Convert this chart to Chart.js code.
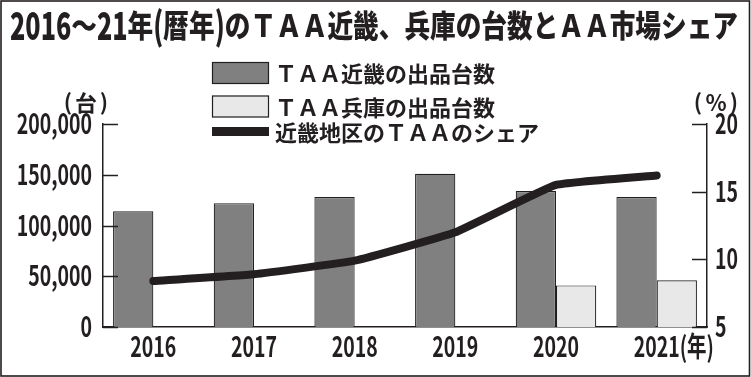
<!DOCTYPE html>
<html lang="ja">
<head>
<meta charset="utf-8">
<title>TAA近畿・兵庫の台数とAA市場シェア</title>
<script src="https://cdn.jsdelivr.net/npm/chart.js@4.4.1/dist/chart.umd.min.js"></script>
<style>
  html, body { margin: 0; padding: 0; background: #fff; }
  #wrap { width: 751px; height: 377px; }
</style>
</head>
<body>
<div id="wrap"><canvas id="taaChart" width="751" height="377"></canvas></div>
<script>
// データ
const years = ['2016', '2017', '2018', '2019', '2020', '2021'];
const kinkiCounts = [114000, 122000, 128000, 151000, 134000, 128000];
const hyogoCounts = [null, null, null, null, 41000, 46000];
const kinkiShare = [8.4, 8.9, 9.9, 12.0, 15.5, 16.2];
const countTicks = [0, 50000, 100000, 150000, 200000];
const shareTicks = [5, 10, 15, 20];

const titleText = '2016～21年(暦年)のＴＡＡ近畿、兵庫の台数とＡＡ市場シェア';
const seriesLabels = ['ＴＡＡ近畿の出品台数', 'ＴＡＡ兵庫の出品台数', '近畿地区のＴＡＡのシェア'];

const INK = '#231f20';
const JP_FONT = '"Noto Sans CJK JP", sans-serif';
const NUM_FONT = 'bold 28px ' + JP_FONT;

// 横方向に詰めて描く
function drawSqueezed(ctx, text, x, y, align, sx) {
    const w = ctx.measureText(text).width * sx;
    const left = align === 'right' ? x - w : align === 'center' ? x - w / 2 : x;
    ctx.save();
    ctx.translate(left, y);
    ctx.scale(sx, 1);
    ctx.textAlign = 'left';
    ctx.fillText(text, 0, 0);
    ctx.restore();
    return w;
}

// 背景・タイトル・外枠
const framePlugin = {
    id: 'frame',
    beforeDraw(chart) {
        const ctx = chart.ctx;
        ctx.save();
        ctx.fillStyle = '#fff';
        ctx.fillRect(0, 0, chart.width, chart.height);
        ctx.fillStyle = INK;

        // 英数字は背を高く細く、全体を幅に合わせて詰める
        const runs = titleText.match(/[\x20-\x7e]+|[^\x20-\x7e]+/g).map(s => ({
            text: s,
            ascii: /^[\x20-\x7e]/.test(s)
        }));
        const fontOf = r => r.ascii ? '900 38px ' + JP_FONT : '900 31px ' + JP_FONT;
        const squeeze = r => r.ascii ? 0.8 : 1;
        let total = 0;
        runs.forEach(r => {
            ctx.font = fontOf(r);
            r.w = ctx.measureText(r.text).width * squeeze(r);
            total += r.w;
        });
        const sx = 728 / total;
        ctx.translate(10, 40);
        ctx.scale(sx, 1);
        let cx = 0;
        runs.forEach(r => {
            ctx.font = fontOf(r);
            ctx.textBaseline = r.ascii ? 'alphabetic' : 'ideographic';
            ctx.save();
            ctx.translate(cx, r.ascii ? 0 : 1);
            ctx.scale(squeeze(r), 1);
            ctx.fillText(r.text, 0, 0);
            ctx.restore();
            cx += r.w;
        });
        ctx.restore();
    },
    afterDraw(chart) {
        const ctx = chart.ctx;
        ctx.save();
        ctx.strokeStyle = INK;
        ctx.lineWidth = 1.6;
        ctx.strokeRect(1, 1, chart.width - 2.5, chart.height - 2);
        ctx.restore();
    }
};

// 内向きの目盛り線と目盛りラベル
const axisLabelPlugin = {
    id: 'axisLabels',
    afterDatasetsDraw(chart) {
        const ctx = chart.ctx;
        const area = chart.chartArea;
        ctx.save();
        ctx.strokeStyle = INK;
        ctx.fillStyle = INK;
        ctx.lineWidth = 1.5;
        ctx.font = NUM_FONT;
        ctx.textBaseline = 'alphabetic';
        const sx = 46 / ctx.measureText('2016').width;

        ['y', 'y2'].forEach(id => {
            const scale = chart.scales[id];
            const left = id === 'y';
            scale.ticks.forEach(t => {
                const py = scale.getPixelForValue(t.value);
                const x0 = left ? area.left : area.right;
                const x1 = left ? x0 + 15 : x0 - 15;
                ctx.beginPath();
                ctx.moveTo(x0, Math.round(py) + 0.5);
                ctx.lineTo(x1, Math.round(py) + 0.5);
                ctx.stroke();
                const txt = left ? t.value.toLocaleString('en-US') : String(t.value);
                if (left) drawSqueezed(ctx, txt, area.left - 11, py + 10, 'right', sx);
                else drawSqueezed(ctx, txt, area.right + 8, py + 10, 'left', sx);
            });
        });

        const xs = chart.scales.x;
        xs.ticks.forEach((t, i) => {
            const px = xs.getPixelForTick(i);
            const lbl = xs.getLabelForValue(t.value);
            const w = drawSqueezed(ctx, lbl, px, area.bottom + 30, 'center', sx);
            if (i === xs.ticks.length - 1) {
                drawSqueezed(ctx, '(年)', px + w / 2, area.bottom + 30, 'left', sx);
            }
        });
        ctx.restore();
    }
};

// 凡例と単位
const legendPlugin = {
    id: 'boxLegend',
    afterDraw(chart) {
        const ctx = chart.ctx;
        const rows = [73, 106.5, 131.5];
        const bx = 212, bw = 57, bh = 22;
        ctx.save();
        ctx.font = 'bold 22px ' + JP_FONT;
        ctx.textBaseline = 'middle';
        ctx.textAlign = 'left';
        chart.data.datasets.forEach((ds, i) => {
            const yc = rows[i];
            if (ds.type === 'line') {
                ctx.strokeStyle = ds.borderColor;
                ctx.lineWidth = 9;
                ctx.beginPath();
                ctx.moveTo(bx, yc);
                ctx.lineTo(bx + bw, yc);
                ctx.stroke();
            } else {
                ctx.fillStyle = ds.backgroundColor;
                ctx.fillRect(bx, yc - bh / 2, bw, bh);
                ctx.strokeStyle = ds.borderColor;
                ctx.lineWidth = 1.2;
                ctx.strokeRect(bx + 0.5, yc - bh / 2 + 0.5, bw - 1, bh - 1);
            }
            ctx.fillStyle = INK;
            ctx.fillText(ds.label, 275, yc + 1);
        });

        // 単位
        ctx.textAlign = 'center';
        ctx.fillText('(', 68, 102);
        ctx.fillText('台', 86, 103);
        ctx.fillText(')', 104, 102);
        ctx.fillText('(', 698, 102);
        ctx.fillText('%', 716, 103);
        ctx.fillText(')', 734, 102);
        ctx.restore();
    }
};

const ctx = document.getElementById('taaChart').getContext('2d');
const taaChart = new Chart(ctx, {
    data: {
        labels: years,
        datasets: [{
            type: 'bar',
            label: seriesLabels[0],
            data: kinkiCounts,
            backgroundColor: '#808081',
            borderColor: INK,
            borderWidth: 1.2,
            yAxisID: 'y',
            order: 1
        }, {
            type: 'bar',
            label: seriesLabels[1],
            data: hyogoCounts,
            backgroundColor: '#e8e8e9',
            borderColor: INK,
            borderWidth: 1.2,
            yAxisID: 'y',
            order: 1
        }, {
            type: 'line',
            label: seriesLabels[2],
            data: kinkiShare,
            borderColor: INK,
            borderWidth: 8,
            borderCapStyle: 'round',
            borderJoinStyle: 'round',
            pointRadius: 0,
            tension: 0.1,
            yAxisID: 'y2',
            order: 0
        }]
    },
    options: {
        responsive: false,
        animation: false,
        events: [],
        layout: { padding: { top: 124, left: 0, right: 0, bottom: 0 } },
        datasets: {
            bar: { categoryPercentage: 0.8, barPercentage: 1.0 }
        },
        plugins: {
            legend: { display: false },
            tooltip: { enabled: false },
            title: { display: false }
        },
        scales: {
            x: {
                grid: { display: false },
                border: { display: true, color: INK, width: 1.5 },
                ticks: { display: false },
                afterFit(scale) { scale.height = 50; }
            },
            y: {
                position: 'left',
                min: 0,
                max: 200000,
                grid: { display: false },
                border: { display: true, color: INK, width: 1.5 },
                ticks: { display: false },
                afterBuildTicks(scale) { scale.ticks = countTicks.map(v => ({ value: v })); },
                afterFit(scale) { scale.width = 103; }
            },
            y2: {
                position: 'right',
                min: 5,
                max: 20,
                grid: { display: false },
                border: { display: true, color: INK, width: 1.5 },
                ticks: { display: false },
                afterBuildTicks(scale) { scale.ticks = shareTicks.map(v => ({ value: v })); },
                afterFit(scale) { scale.width = 44; }
            }
        }
    },
    plugins: [framePlugin, axisLabelPlugin, legendPlugin]
});
</script>
</body>
</html>
